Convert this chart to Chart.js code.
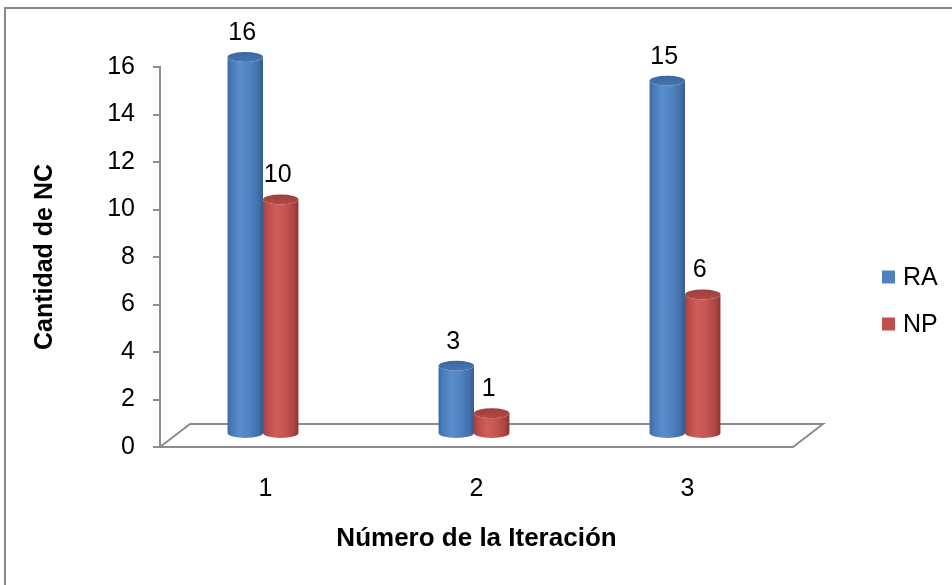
<!DOCTYPE html>
<html>
<head>
<meta charset="utf-8">
<script src="https://cdn.jsdelivr.net/npm/chart.js@4.4.1/dist/chart.umd.min.js"></script>
<style>
  html, body { margin: 0; padding: 0; background: #ffffff; }
  #wrap { position: relative; width: 952px; height: 585px; }
  canvas { display: block; }
</style>
</head>
<body>
<div id="wrap"><canvas id="c" width="952" height="585"></canvas></div>
<script>
// Iterations and non-conformity counts per type
const categories = ['1', '2', '3'];
const seriesNames = ['RA', 'NP'];
const raValues = [16, 3, 15];
const npValues = [10, 1, 6];
const yTickValues = [0, 2, 4, 6, 8, 10, 12, 14, 16];

const FONT = "'Liberation Sans', Arial, Helvetica, sans-serif";
const AXIS_GREY = '#8c8c8c';

// Shading for the cylinder bodies (left to right)
const shades = {
  RA: {
    flat: '#4F81BD',
    stops: [[0, '#3C68A2'], [0.1, '#4979B6'], [0.35, '#5A8DCD'], [0.62, '#5083C1'], [0.86, '#4271AC'], [1, '#355C8F']],
    cap: ['#3B67A0', '#4675B1']
  },
  NP: {
    flat: '#C0504D',
    stops: [[0, '#A0403D'], [0.1, '#B84B48'], [0.35, '#D05D5A'], [0.62, '#C65451'], [0.86, '#AD4542'], [1, '#8C3432']],
    cap: ['#9E3F3C', '#B04946']
  }
};

// Depth offset of the bar row inside the floor
const DEPTH = { dx: -2.5, topDy: -10, baseDy: -13, ry: 5 };
// Floor skew (back edge relative to front edge)
const FLOOR = { dx: 30, dy: -23 };

function drawCylinder(ctx, cx, w, top, bottom, ry, sh) {
  const l = cx - w / 2, r = cx + w / 2, rx = w / 2;
  const g = ctx.createLinearGradient(l, 0, r, 0);
  sh.stops.forEach(([o, c]) => g.addColorStop(o, c));
  ctx.beginPath();
  ctx.moveTo(l, top);
  ctx.lineTo(l, bottom);
  ctx.ellipse(cx, bottom, rx, ry, 0, Math.PI, 0, true);
  ctx.lineTo(r, top);
  ctx.ellipse(cx, top, rx, ry, 0, 0, Math.PI, false);
  ctx.closePath();
  ctx.fillStyle = g;
  ctx.fill();
  // top cap
  const cg = ctx.createLinearGradient(cx, top - ry, cx, top + ry);
  cg.addColorStop(0, sh.cap[0]);
  cg.addColorStop(1, sh.cap[1]);
  ctx.beginPath();
  ctx.ellipse(cx, top, rx, ry, 0, 0, Math.PI * 2);
  ctx.fillStyle = cg;
  ctx.fill();
}

const framePlugin = {
  id: 'frame',
  beforeDraw(chart) {
    const ctx = chart.ctx;
    ctx.save();
    ctx.fillStyle = '#ffffff';
    ctx.fillRect(0, 0, chart.width, chart.height);
    ctx.strokeStyle = '#878787';
    ctx.lineWidth = 2;
    ctx.beginPath();
    ctx.moveTo(5, chart.height + 5);
    ctx.lineTo(5, 8);
    ctx.lineTo(chart.width + 5, 8);
    ctx.stroke();
    ctx.restore();
  }
};

const floorPlugin = {
  id: 'floor',
  beforeDatasetsDraw(chart) {
    const { ctx, chartArea: a } = chart;
    ctx.save();
    ctx.strokeStyle = AXIS_GREY;
    ctx.lineWidth = 2;
    ctx.lineJoin = 'miter';
    ctx.beginPath();
    ctx.moveTo(a.left, a.bottom);
    ctx.lineTo(a.left + FLOOR.dx, a.bottom + FLOOR.dy);
    ctx.lineTo(a.right + FLOOR.dx, a.bottom + FLOOR.dy);
    ctx.lineTo(a.right, a.bottom);
    ctx.closePath();
    ctx.stroke();
    ctx.restore();
  }
};

const cylinderPlugin = {
  id: 'cylinders',
  afterDatasetsDraw(chart) {
    const ctx = chart.ctx;
    ctx.save();
    chart.data.datasets.forEach((ds, di) => {
      const meta = chart.getDatasetMeta(di);
      const sh = shades[ds.label];
      meta.data.forEach((bar, i) => {
        const cx = bar.x + DEPTH.dx;
        const top = bar.y + DEPTH.topDy;
        const bottom = bar.base + DEPTH.baseDy;
        drawCylinder(ctx, cx, bar.width, top, bottom, DEPTH.ry, sh);
        // value label above the cylinder
        ctx.fillStyle = '#000000';
        ctx.font = '25px ' + FONT;
        ctx.textAlign = 'center';
        ctx.textBaseline = 'middle';
        ctx.fillText(String(ds.data[i]), cx - 3, top - 24);
      });
    });
    ctx.restore();
  }
};

const legendPlugin = {
  id: 'sideLegend',
  afterDraw(chart) {
    const ctx = chart.ctx;
    ctx.save();
    const x0 = 882, y0 = 277, gap = 47;
    chart.data.datasets.forEach((ds, i) => {
      const y = y0 + i * gap;
      ctx.fillStyle = shades[ds.label].flat;
      ctx.fillRect(x0, y - 6.5, 13, 13);
      ctx.fillStyle = '#000000';
      ctx.font = '25px ' + FONT;
      ctx.textAlign = 'left';
      ctx.textBaseline = 'middle';
      ctx.fillText(ds.label, x0 + 21, y + 1);
    });
    ctx.restore();
  }
};

new Chart(document.getElementById('c'), {
  type: 'bar',
  data: {
    labels: categories,
    datasets: [
      { label: seriesNames[0], data: raValues, backgroundColor: 'rgba(0,0,0,0)', borderWidth: 0 },
      { label: seriesNames[1], data: npValues, backgroundColor: 'rgba(0,0,0,0)', borderWidth: 0 }
    ]
  },
  options: {
    responsive: false,
    animation: false,
    events: [],
    layout: { padding: { top: 67, right: 159, bottom: 30, left: 0 } },
    datasets: { bar: { categoryPercentage: 0.336, barPercentage: 1.0 } },
    plugins: { legend: { display: false }, tooltip: { enabled: false } },
    scales: {
      x: {
        grid: { display: false, drawTicks: false },
        border: { display: false },
        ticks: { color: '#000000', font: { family: FONT, size: 25 }, padding: 27 },
        title: {
          display: true,
          text: 'Número de la Iteración',
          color: '#000000',
          font: { family: FONT, size: 26, weight: 'bold' },
          padding: { top: 0, bottom: 1 }
        },
        afterFit(scale) { scale.height = 108; }
      },
      y: {
        min: 0,
        max: 16,
        afterBuildTicks(scale) { scale.ticks = yTickValues.map(v => ({ value: v })); },
        grid: { drawOnChartArea: false, drawTicks: true, tickLength: 7, color: AXIS_GREY, lineWidth: 2 },
        border: { display: true, color: AXIS_GREY, width: 2 },
        ticks: { color: '#000000', font: { family: FONT, size: 25 }, padding: 18 },
        title: {
          display: true,
          text: 'Cantidad de NC',
          color: '#000000',
          font: { family: FONT, size: 25, weight: 'bold' },
          padding: { top: 30, bottom: 0 }
        },
        afterFit(scale) { scale.width = 160; }
      }
    }
  },
  plugins: [framePlugin, floorPlugin, cylinderPlugin, legendPlugin]
});
</script>
</body>
</html>
